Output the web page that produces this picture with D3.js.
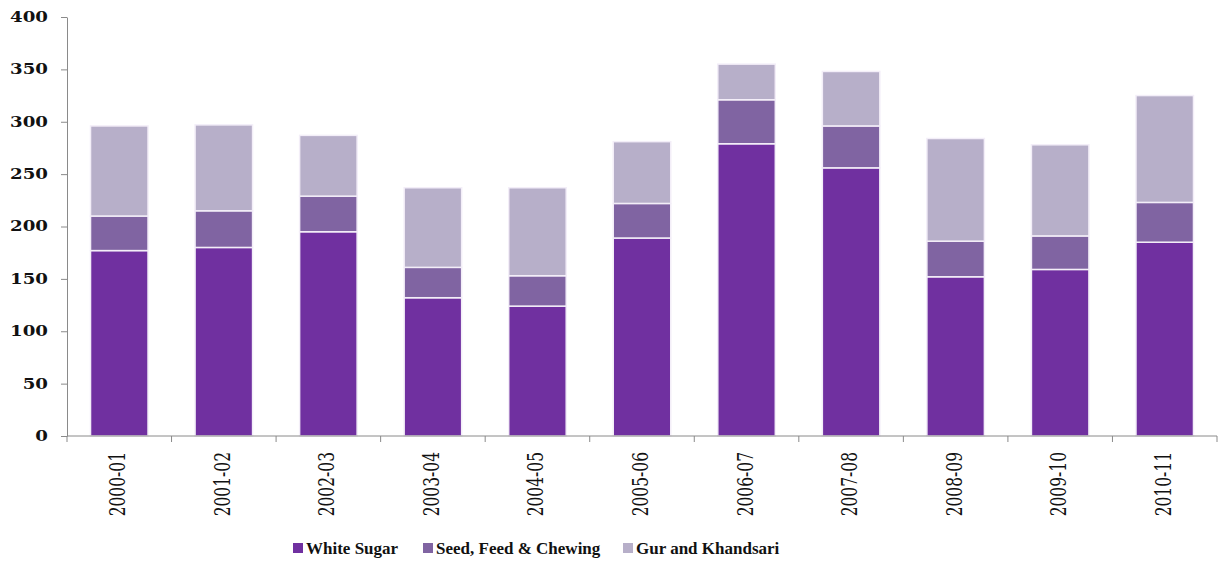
<!DOCTYPE html>
<html>
<head>
<meta charset="utf-8">
<script src="https://cdn.jsdelivr.net/npm/d3@7"></script>
<style>
  body { margin: 0; background: #fff; }
  #content svg { display: block; }
</style>
</head>
<body>
<div id="content"></div>
<script>
// datas
const years = ["2000-01", "2001-02", "2002-03", "2003-04", "2004-05", "2005-06",
               "2006-07", "2007-08", "2008-09", "2009-10", "2010-11"];
const whiteSugar = [177, 180, 195, 132, 124, 189, 279, 256, 152, 159, 185];
const seedFeed   = [33, 35, 34, 29, 29, 33, 42, 40, 34, 32, 38];
const gur        = [86, 82, 58, 76, 84, 59, 34, 52, 98, 87, 102];
const seriesNames = ["White Sugar", "Seed, Feed & Chewing", "Gur and Khandsari"];
const yTicks = [0, 50, 100, 150, 200, 250, 300, 350, 400];

const colors = ["#7030a0", "#8064a2", "#b7afc9"];

// view
const w = 1221;
const h = 563;
const margin = {left: 67, right: 4, top: 17, bottom: 127};

const svg = d3.select("#content")
            .append("svg")
            .attr("width", w)
            .attr("height", h);

const rows = years.map((y, i) => ({
  year: y,
  "White Sugar": whiteSugar[i],
  "Seed, Feed & Chewing": seedFeed[i],
  "Gur and Khandsari": gur[i]
}));

const stacked = d3.stack().keys(seriesNames)(rows);

const x = d3.scaleBand()
            .domain(years)
            .range([margin.left, w - margin.right])
            .paddingInner(0.45)
            .paddingOuter(0.225);

const y = d3.scaleLinear()
            .domain([0, 400])
            .range([h - margin.bottom, margin.top]);

// bars
svg.append("g")
   .selectAll("g")
   .data(stacked)
   .enter()
   .append("g")
   .attr("fill", (d, i) => colors[i])
   .selectAll("rect")
   .data(d => d)
   .enter()
   .append("rect")
   .attr("x", d => x(d.data.year))
   .attr("y", d => y(d[1]))
   .attr("width", x.bandwidth())
   .attr("height", d => y(d[0]) - y(d[1]))
   .attr("stroke", "#f3eef8")
   .attr("stroke-width", 1.5);

// y axis
const yAxis = svg.append("g")
   .attr("transform", `translate(${margin.left},0)`)
   .call(d3.axisLeft(y).tickValues(yTicks).tickSize(6).tickSizeOuter(0));
yAxis.select(".domain").attr("stroke", "#8a8a8a");
yAxis.selectAll(".tick line").attr("stroke", "#8a8a8a");
yAxis.selectAll(".tick text")
     .attr("x", 0)
     .attr("text-anchor", "end")
     .attr("transform", "translate(-19,0) scale(1.3,1)")
     .attr("font-family", "DejaVu Serif")
     .attr("font-weight", "bold")
     .attr("font-size", 14)
     .attr("fill", "#111");

// x axis, ticks between categories
const xAxisG = svg.append("g")
   .attr("transform", `translate(0,${y(0)})`);
xAxisG.append("line")
   .attr("x1", margin.left)
   .attr("x2", w - margin.right)
   .attr("stroke", "#8a8a8a");
const step = x.step();
xAxisG.selectAll("line.tk")
   .data(d3.range(years.length + 1))
   .enter()
   .append("line")
   .attr("class", "tk")
   .attr("x1", i => margin.left + i * step)
   .attr("x2", i => margin.left + i * step)
   .attr("y1", 0)
   .attr("y2", 6)
   .attr("stroke", "#8a8a8a");

xAxisG.selectAll("text")
   .data(years)
   .enter()
   .append("text")
   .attr("transform", d => `translate(${x(d) + x.bandwidth() / 2 + 6},16) rotate(-90) scale(1,1.4)`)
   .attr("text-anchor", "end")
   .attr("font-family", "DejaVu Serif")
   .attr("font-size", 15.5)
   .attr("fill", "#111")
   .text(d => d);

// legend
const legendX = [293, 423, 623];
const legend = svg.append("g")
   .selectAll("g")
   .data(seriesNames)
   .enter()
   .append("g")
   .attr("transform", (d, i) => `translate(${legendX[i]},549)`);
legend.append("rect")
   .attr("x", 0)
   .attr("y", -6)
   .attr("width", 10)
   .attr("height", 10)
   .attr("fill", (d, i) => colors[i]);
legend.append("text")
   .attr("x", 13)
   .attr("y", 5)
   .attr("font-family", "Liberation Serif")
   .attr("font-weight", "bold")
   .attr("font-size", 17)
   .attr("fill", "#111")
   .text(d => d);
</script>
</body>
</html>
